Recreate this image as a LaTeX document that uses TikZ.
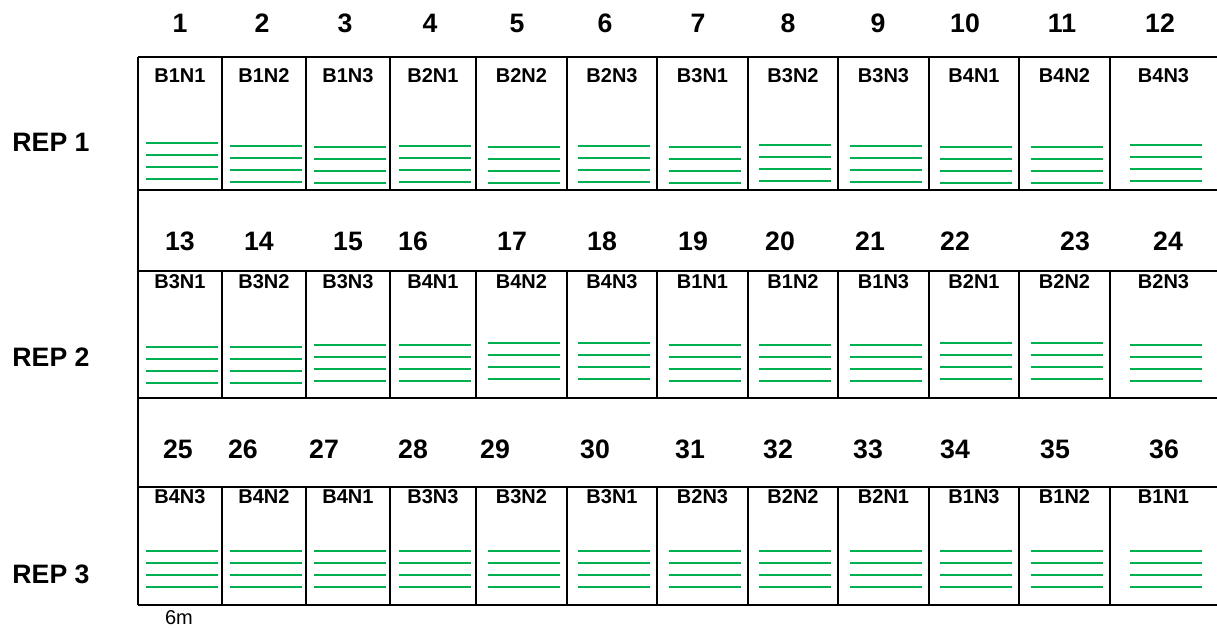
\documentclass[tikz,border=0pt]{standalone}
\usepackage{fontspec}
\setmainfont{Liberation Sans}
\definecolor{cropgreen}{RGB}{0,176,80}
\tikzset{
  plotline/.style={line width=1.9pt},
  croprow/.style={cropgreen,line width=1.6pt},
  plotlabel/.style={font=\fontsize{15}{18}\selectfont\bfseries},
  plotnum/.style={font=\fontsize{20}{24}\selectfont\bfseries},
  replabel/.style={font=\fontsize{20}{24}\selectfont\bfseries}
}
\begin{document}
\begin{tikzpicture}[x=0.75pt,y=-0.75pt]
  \useasboundingbox (0,0) rectangle (1217,628);
  % Field frame
  \draw[plotline] (138,57) -- (1217,57);
  \draw[plotline] (138,190) -- (1217,190);
  \draw[plotline] (138,271) -- (1217,271);
  \draw[plotline] (138,398) -- (1217,398);
  \draw[plotline] (138,487) -- (1217,487);
  \draw[plotline] (138,605) -- (1217,605);
  \draw[plotline] (138,57) -- (138,605);
  \foreach \x in {222,306,390,476,567,657,748,838,929,1019,1110} {
    \draw[plotline] (\x,57) -- (\x,190);
    \draw[plotline] (\x,271) -- (\x,398);
    \draw[plotline] (\x,487) -- (\x,605);
  }
  % Rep labels
  \node[replabel] (rep1) at (51,142) {REP 1};
  \node[replabel] (rep2) at (51,357) {REP 2};
  \node[replabel] (rep3) at (51,574) {REP 3};
  % Rep 1
  \foreach \l/\r/\lab/\gy [count=\i] in {138/222/B1N1/179,222/306/B1N2/182,
      306/390/B1N3/183,390/476/B2N1/182,476/567/B2N2/183,567/657/B2N3/182,
      657/748/B3N1/183,748/838/B3N2/181,838/929/B3N3/182,929/1019/B4N1/183,
      1019/1110/B4N2/183,1110/1217/B4N3/181} {
    \node[plotlabel] (a\i) at ({(\l+\r)/2},76) {\lab};
    \foreach \k in {0,12,24,36}
      \draw[croprow] ({(\l+\r)/2-34},{\gy-\k}) -- ({(\l+\r)/2+38},{\gy-\k});
  }
  % Rep 2
  \foreach \l/\r/\lab/\gy [count=\i] in {138/222/B3N1/383,222/306/B3N2/383,
      306/390/B3N3/381,390/476/B4N1/381,476/567/B4N2/379,567/657/B4N3/379,
      657/748/B1N1/381,748/838/B1N2/381,838/929/B1N3/381,929/1019/B2N1/379,
      1019/1110/B2N2/379,1110/1217/B2N3/381} {
    \node[plotlabel] (b\i) at ({(\l+\r)/2},282) {\lab};
    \foreach \k in {0,12,24,36}
      \draw[croprow] ({(\l+\r)/2-34},{\gy-\k}) -- ({(\l+\r)/2+38},{\gy-\k});
  }
  % Rep 3
  \foreach \l/\r/\lab/\gy [count=\i] in {138/222/B4N3/587,222/306/B4N2/587,
      306/390/B4N1/587,390/476/B3N3/587,476/567/B3N2/587,567/657/B3N1/587,
      657/748/B2N3/587,748/838/B2N2/587,838/929/B2N1/587,929/1019/B1N3/587,
      1019/1110/B1N2/587,1110/1217/B1N1/587} {
    \node[plotlabel] (c\i) at ({(\l+\r)/2},497) {\lab};
    \foreach \k in {0,12,24,36}
      \draw[croprow] ({(\l+\r)/2-34},{\gy-\k}) -- ({(\l+\r)/2+38},{\gy-\k});
  }
  % Plot numbers
  \foreach \x [count=\n] in {180,262,345,430,517,605,698,788,878,965,1062,1160}
    \node[plotnum] (n\n) at (\x,23) {\n};
  \foreach \x [count=\n from 13] in {180,259,348,413,512,602,693,780,870,955,1075,1168}
    \node[plotnum] (n\n) at (\x,241) {\n};
  \foreach \x [count=\n from 25] in {178,243,324,413,495,595,690,778,868,955,1055,1164}
    \node[plotnum] (n\n) at (\x,449) {\n};
  % Scale
  \node[font=\fontsize{15}{18}\selectfont] (scale) at (179,618) {6m};
\end{tikzpicture}
\end{document}
